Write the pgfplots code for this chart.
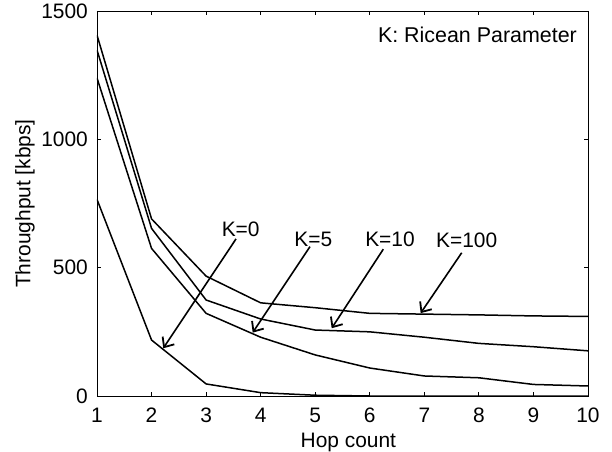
\documentclass[border=0pt]{standalone}
\usepackage{pgfplots}
\pgfplotsset{compat=1.18}
\usepackage{fontspec}
\setmainfont{Liberation Sans}
\usetikzlibrary{arrows.meta}
\begin{document}
\begin{tikzpicture}
\useasboundingbox (-97bp,-56bp) rectangle (515bp,396bp);
\begin{axis}[
  at={(0,0)}, anchor=south west,
  width=491bp, height=385bp, scale only axis,
  xmin=1, xmax=10, ymin=0, ymax=1500,
  xtick={1,2,...,10}, ytick={0,500,1000,1500},
  tick align=inside, major tick length=4bp,
  /pgf/number format/assume math mode=true,
  /pgf/number format/set thousands separator={},
  axis line style={line width=0.9bp},
  every tick/.style={line width=0.9bp, black},
  tick label style={font=\fontsize{21}{25}\selectfont, inner sep=0pt},
  xticklabel style={anchor=north, yshift=-12bp},
  yticklabel style={anchor=east, xshift=-9bp},
  xlabel={Hop count},
  ylabel={Throughput [kbps]},
  label style={font=\fontsize{21}{25}\selectfont, inner sep=0pt},
  xlabel style={at={(axis description cs:0.512,-0.0961)}, anchor=north},
  ylabel style={at={(axis description cs:-0.1466,0.5)}, anchor=center},
  cycle list={{black, line width=1.5bp, mark=none}},
]
% K=0
\addplot[black, line width=1.5bp, mark=none] coordinates {(1,766) (2,218) (3,47) (4,13) (5,3) (6,0) (7,0) (8,0) (9,0) (10,0)};
% K=5
\addplot[black, line width=1.5bp, mark=none] coordinates {(1,1239) (2,575) (3,322) (4,229) (5,160) (6,109) (7,78) (8,71) (9,45) (10,39)};
% K=10
\addplot[black, line width=1.5bp, mark=none] coordinates {(1,1348) (2,653) (3,374) (4,300) (5,257) (6,250) (7,229) (8,205) (9,192) (10,176)};
% K=100
\addplot[black, line width=1.5bp, mark=none] coordinates {(1,1406) (2,690) (3,467) (4,363) (5,344) (6,322) (7,319) (8,316) (9,312) (10,310)};

\node[anchor=east, inner sep=0pt, font=\fontsize{21.5}{25}\selectfont] at (axis cs:9.8,1406) {K: Ricean Parameter};

\node[inner sep=0pt, font=\fontsize{21}{25}\selectfont] at (axis cs:3.634,649) {K=0};
\node[inner sep=0pt, font=\fontsize{21}{25}\selectfont] at (axis cs:4.965,610) {K=5};
\node[inner sep=0pt, font=\fontsize{21}{25}\selectfont] at (axis cs:6.371,610) {K=10};
\node[inner sep=0pt, font=\fontsize{21}{25}\selectfont] at (axis cs:7.776,605) {K=100};

\draw[line width=1.6bp, -{Straight Barb[length=8bp,width=14bp,line width=1.8bp]}] (axis cs:3.548,612) -- (axis cs:2.215,186);
\draw[line width=1.6bp, -{Straight Barb[length=8bp,width=14bp,line width=1.8bp]}] (axis cs:4.904,582) -- (axis cs:3.854,247);
\draw[line width=1.6bp, -{Straight Barb[length=8bp,width=14bp,line width=1.8bp]}] (axis cs:6.248,572) -- (axis cs:5.302,264);
\draw[line width=1.6bp, -{Straight Barb[length=8bp,width=14bp,line width=1.8bp]}] (axis cs:7.685,558) -- (axis cs:6.933,323);
\end{axis}
\end{tikzpicture}
\end{document}
